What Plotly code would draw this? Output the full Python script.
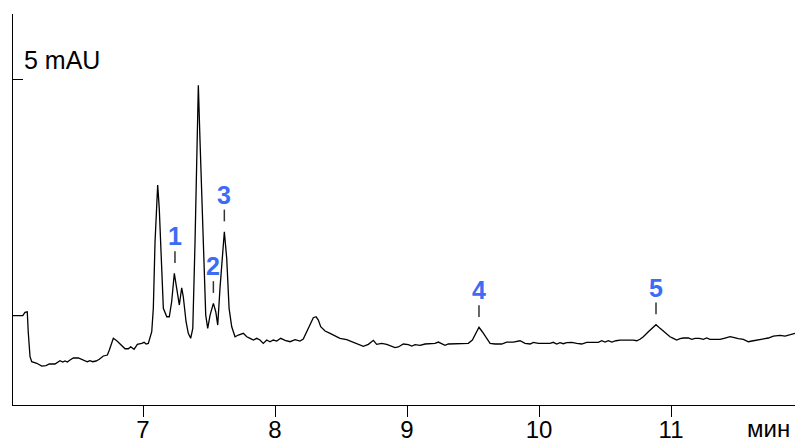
import plotly.graph_objects as go

# Retention time (min) and detector signal (mAU, relative)
time_min = [6.013, 6.089, 6.106, 6.123, 6.131, 6.144, 6.157, 6.195, 6.233, 6.265,
            6.290, 6.333, 6.371, 6.392, 6.409, 6.427, 6.447, 6.472, 6.510, 6.536,
            6.561, 6.578, 6.598, 6.619, 6.644, 6.669, 6.699, 6.730, 6.745, 6.775,
            6.801, 6.833, 6.864, 6.889, 6.907, 6.932, 6.957, 6.990, 7.008, 7.023,
            7.040, 7.066, 7.078, 7.091, 7.111, 7.123, 7.142, 7.154, 7.180, 7.199,
            7.217, 7.237, 7.255, 7.267, 7.275, 7.293, 7.305, 7.326, 7.343, 7.361,
            7.377, 7.394, 7.411, 7.419, 7.432, 7.457, 7.475, 7.490, 7.508, 7.533,
            7.551, 7.566, 7.583, 7.616, 7.634, 7.652, 7.672, 7.697, 7.722, 7.760,
            7.786, 7.811, 7.836, 7.861, 7.886, 7.911, 7.937, 7.962, 7.987, 8.013,
            8.043, 8.076, 8.114, 8.152, 8.189, 8.214, 8.240, 8.265, 8.290, 8.311,
            8.328, 8.346, 8.379, 8.417, 8.455, 8.492, 8.543, 8.593, 8.631, 8.669,
            8.707, 8.745, 8.770, 8.808, 8.846, 8.884, 8.909, 8.934, 8.972, 9.010,
            9.036, 9.061, 9.098, 9.136, 9.174, 9.212, 9.237, 9.263, 9.288, 9.313,
            9.389, 9.439, 9.464, 9.495, 9.520, 9.545, 9.570, 9.596, 9.629, 9.667,
            9.717, 9.755, 9.805, 9.856, 9.894, 9.932, 9.957, 9.995, 10.045, 10.083,
            10.108, 10.134, 10.159, 10.184, 10.210, 10.248, 10.286, 10.323, 10.361, 10.424,
            10.449, 10.475, 10.500, 10.525, 10.551, 10.583, 10.614, 10.714, 10.740, 10.765,
            10.790, 10.828, 10.866, 10.886, 10.917, 10.955, 10.992, 11.017, 11.043, 11.068,
            11.093, 11.131, 11.157, 11.182, 11.214, 11.245, 11.270, 11.295, 11.371, 11.409,
            11.447, 11.472, 11.510, 11.548, 11.586, 11.623, 11.661, 11.699, 11.737, 11.775,
            11.826, 11.864, 11.889, 11.914, 11.939]
signal_mau = [1.370, 1.370, 1.422, 1.431, 1.104, 0.741, 0.664, 0.640, 0.598, 0.603,
              0.629, 0.629, 0.679, 0.660, 0.675, 0.660, 0.690, 0.721, 0.721, 0.701,
              0.679, 0.664, 0.679, 0.664, 0.675, 0.701, 0.752, 0.767, 0.844, 1.023,
              0.986, 0.920, 0.863, 0.863, 0.894, 0.854, 0.931, 0.946, 0.962, 0.936,
              0.946, 1.124, 1.483, 2.505, 3.374, 3.017, 1.994, 1.483, 1.354, 1.354,
              1.584, 2.020, 1.790, 1.584, 1.534, 1.799, 1.661, 1.278, 1.100, 1.023,
              1.176, 2.505, 4.038, 4.908, 4.038, 2.505, 1.380, 1.176, 1.380, 1.560,
              1.431, 1.227, 1.790, 2.658, 2.250, 1.483, 1.201, 1.048, 1.074, 1.100,
              1.048, 1.023, 0.997, 1.023, 0.997, 0.946, 0.997, 0.971, 0.997, 0.982,
              1.023, 0.992, 0.971, 1.002, 0.982, 1.012, 1.124, 1.253, 1.339, 1.354,
              1.304, 1.201, 1.135, 1.100, 1.063, 1.023, 1.002, 0.962, 0.931, 0.900,
              0.931, 0.992, 0.931, 0.946, 0.931, 0.894, 0.882, 0.890, 0.936, 0.925,
              0.905, 0.925, 0.916, 0.936, 0.936, 0.946, 0.966, 0.936, 0.916, 0.936,
              0.936, 0.936, 0.946, 0.997, 1.100, 1.192, 1.124, 1.038, 0.946, 0.936,
              0.936, 0.966, 0.966, 0.986, 0.946, 0.936, 0.962, 0.946, 0.946, 0.946,
              0.962, 0.936, 0.956, 0.940, 0.956, 0.962, 0.946, 0.936, 0.962, 0.962,
              0.962, 0.986, 0.966, 0.986, 0.966, 0.986, 0.997, 0.997, 0.986, 1.008,
              1.048, 1.124, 1.201, 1.232, 1.176, 1.109, 1.048, 1.023, 0.997, 1.017,
              1.028, 1.028, 1.008, 1.023, 1.023, 1.008, 1.028, 1.008, 1.008, 1.028,
              1.048, 1.038, 1.017, 1.008, 0.971, 0.986, 0.997, 1.008, 1.028, 1.058,
              1.069, 1.058, 1.069, 1.089, 1.100]

# Labelled peaks
peak_labels = ["1", "2", "3", "4", "5"]
peak_times = [7.242, 7.533, 7.616, 9.545, 10.886]
peak_heights = [2.020, 1.560, 2.658, 1.192, 1.232]

x_ticks = [7, 8, 9, 10, 11]
x_tick_text = ["7", "8", "9", "10", "11"]
scale_value = 5
scale_text = "5 mAU"
x_unit = "мин"

LABEL_BLUE = "#3b6cf4"
FONT = "Liberation Sans, Arial, sans-serif"

fig = go.Figure()
fig.add_trace(go.Scatter(x=time_min, y=signal_mau, mode="lines",
                         line=dict(color="black", width=1.3), hoverinfo="skip",
                         showlegend=False))

# Short marker dashes above the labelled peaks
dash_x, dash_y = [], []
for t, h in zip(peak_times, peak_heights):
    dash_x += [t, t, None]
    dash_y += [h + 0.16, h + 0.34, None]
fig.add_trace(go.Scatter(x=dash_x, y=dash_y, mode="lines",
                         line=dict(color="#333333", width=1.5), hoverinfo="skip",
                         showlegend=False))

annotations = []
for lab, t, h in zip(peak_labels, peak_times, peak_heights):
    annotations.append(dict(x=t, y=h + 0.57, xref="x", yref="y", text=lab,
                            showarrow=False, xanchor="center", yanchor="middle",
                            font=dict(family=FONT, size=25, color=LABEL_BLUE, weight="bold")))
annotations.append(dict(x=0.0115, y=scale_value + 0.29, xref="paper", yref="y",
                        text=scale_text, showarrow=False, xanchor="left", yanchor="middle",
                        font=dict(family=FONT, size=25, color="black")))
annotations.append(dict(x=0.9965, y=-0.060, xref="paper", yref="paper", text=x_unit,
                        showarrow=False, xanchor="right", yanchor="middle",
                        font=dict(family=FONT, size=24, color="black")))

fig.update_layout(
    width=795, height=441,
    margin=dict(l=13, r=0, t=14, b=36),
    paper_bgcolor="white", plot_bgcolor="white",
    annotations=annotations,
    xaxis=dict(range=[6.015, 11.939], showgrid=False, zeroline=False, automargin=False,
               showline=True, linecolor="black", linewidth=1.3,
               ticks="outside", ticklen=11, tickwidth=1, tickcolor="black",
               tickvals=x_ticks, ticktext=x_tick_text, ticklabelstandoff=-8,
               tickfont=dict(family=FONT, size=24, color="black")),
    yaxis=dict(range=[0, 6.0], showgrid=False, zeroline=False, automargin=False,
               showline=True, linecolor="black", linewidth=1.3,
               ticks="inside", ticklen=10, tickwidth=1, tickcolor="black",
               tickvals=[scale_value], showticklabels=False),
)

fig.write_html("out.html", config={"displayModeBar": False},
               post_script="document.body.style.margin='0';document.body.style.overflow='hidden';")
